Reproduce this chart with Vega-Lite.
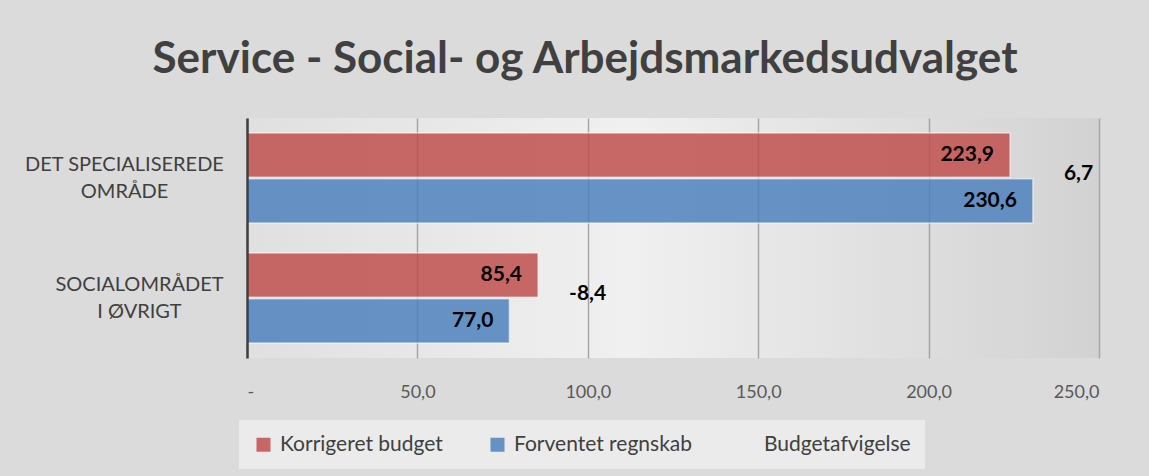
{
  "$schema": "https://vega.github.io/schema/vega-lite/v6.json",
  "width": 852,
  "height": 240,
  "autosize": {"type": "none"},
  "padding": {"left": 247, "top": 118, "right": 50, "bottom": 118},
  "background": "#DBDBDB",
  "view": {
    "stroke": null,
    "fill": {
      "gradient": "linear", "x1": 0, "y1": 0, "x2": 1, "y2": 0,
      "stops": [
        {"offset": 0, "color": "#E0E0E0"},
        {"offset": 0.45, "color": "#F0F0F0"},
        {"offset": 1, "color": "#D2D2D2"}
      ]
    }
  },
  "title": {
    "text": "Service - Social- og Arbejdsmarkedsudvalget",
    "font": "Lato",
    "fontSize": 44,
    "fontWeight": "bold",
    "color": "#404040",
    "anchor": "middle",
    "dx": -88,
    "offset": 36
  },
  "config": {
    "font": "Lato",
    "locale": {"number": {"decimal": ",", "thousands": ".", "grouping": [3], "currency": ["", " kr."], "minus": "-"}}
  },
  "data": {
    "values": [
      {"omraade": "DET SPECIALISEREDE OMRÅDE", "Korrigeret budget": 223.9, "Forventet regnskab": 230.6, "Budgetafvigelse": 6.7},
      {"omraade": "SOCIALOMRÅDET I ØVRIGT", "Korrigeret budget": 85.4, "Forventet regnskab": 77.0, "Budgetafvigelse": -8.4}
    ]
  },
  "encoding": {
    "y": {
      "field": "omraade", "type": "nominal", "sort": null,
      "scale": {"paddingInner": 0.25, "paddingOuter": 0.125},
      "axis": {
        "title": null, "domain": true, "domainColor": "#3F3F3F", "domainWidth": 2.5, "zindex": 2,
        "ticks": false, "grid": false, "labelAlign": "center", "labelBaseline": "middle",
        "labelPadding": {"condition": {"test": "datum.value == 'SOCIALOMRÅDET I ØVRIGT'", "value": 108}, "value": 123},
        "labelFontSize": 20, "labelColor": "#404040", "labelLineHeight": 27,
        "labelLimit": 300, "labelOffset": -13,
        "labelExpr": "datum.value == 'DET SPECIALISEREDE OMRÅDE' ? ['DET SPECIALISEREDE', 'OMRÅDE'] : ['SOCIALOMRÅDET', 'I ØVRIGT']"
      }
    }
  },
  "layer": [
    {
      "transform": [{"fold": ["Korrigeret budget", "Forventet regnskab"], "as": ["serie", "beloeb"]}],
      "mark": {"type": "bar", "fillOpacity": 0.85, "stroke": "#FFFFFF", "strokeOpacity": 0.55, "strokeWidth": 1.5},
      "encoding": {
        "x": {
          "field": "beloeb", "type": "quantitative",
          "scale": {"domain": [0, 250], "nice": false},
          "axis": {
            "title": null, "domain": false, "ticks": false, "grid": true,
            "gridColor": "#A6A6A6", "gridWidth": 1.5,
            "values": [0, 50, 100, 150, 200, 250], "format": ".1f",
            "labelExpr": "datum.value == 0 ? '-' : datum.label",
            "labelFontSize": 18, "labelColor": "#595959", "labelPadding": 25
          }
        },
        "yOffset": {"field": "serie", "sort": ["Korrigeret budget", "Forventet regnskab"], "scale": {"paddingInner": 0.03}},
        "color": {
          "field": "serie", "type": "nominal",
          "scale": {"domain": ["Korrigeret budget", "Forventet regnskab", "Budgetafvigelse"], "range": ["#C0504D", "#4F81BD", "transparent"]},
          "legend": {
            "title": null, "orient": "none", "legendX": -8, "legendY": 302, "direction": "horizontal",
            "fillColor": "#EBEBEB", "padding": 14, "symbolType": "square", "symbolSize": 196,
            "symbolOpacity": 0.85, "symbolStrokeWidth": 0, "labelFontSize": 21, "labelColor": "#404040",
            "labelOffset": 6, "columnPadding": 44, "labelLimit": 400,
            "values": ["Korrigeret budget", "Forventet regnskab", "Budgetafvigelse"]
          }
        }
      }
    },
    {
      "transform": [{"fold": ["Korrigeret budget", "Forventet regnskab"], "as": ["serie", "beloeb"]}],
      "mark": {"type": "text", "align": "right", "baseline": "middle", "dx": -16, "fontSize": 21, "fontWeight": "bold", "color": "#000000"},
      "encoding": {
        "x": {"field": "beloeb", "type": "quantitative"},
        "yOffset": {"field": "serie", "sort": ["Korrigeret budget", "Forventet regnskab"]},
        "text": {"field": "beloeb", "type": "quantitative", "format": ".1f"}
      }
    },
    {
      "transform": [
        {"fold": ["Korrigeret budget", "Forventet regnskab"], "as": ["serie", "beloeb"]},
        {"aggregate": [{"op": "max", "field": "beloeb", "as": "maks"}], "groupby": ["omraade", "Budgetafvigelse"]}
      ],
      "mark": {"type": "text", "align": "left", "baseline": "middle", "dx": 31, "dy": -4, "fontSize": 21, "fontWeight": "bold", "color": "#000000"},
      "encoding": {
        "x": {"field": "maks", "type": "quantitative"},
        "text": {"field": "Budgetafvigelse", "type": "quantitative", "format": ".1f"}
      }
    }
  ]
}
